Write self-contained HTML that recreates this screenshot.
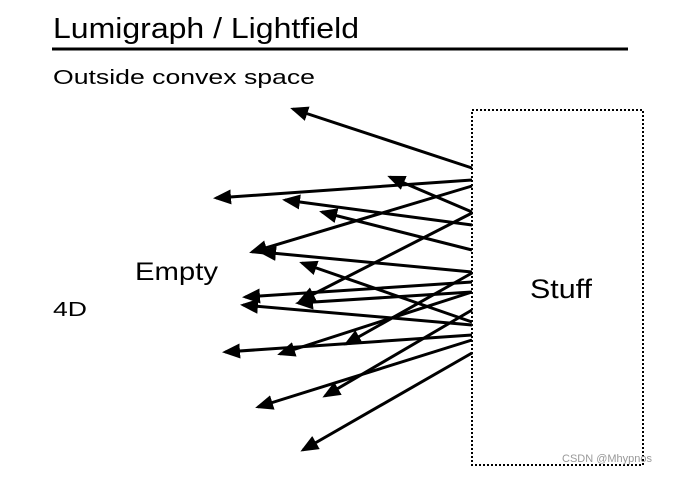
<!DOCTYPE html>
<html><head><style>
body{margin:0;width:675px;height:475px;background:#fff;overflow:hidden;font-family:"Liberation Sans",Arial,sans-serif;}
</style></head><body>
<svg width="675" height="475" xmlns="http://www.w3.org/2000/svg" font-family="Liberation Sans, Arial, sans-serif">
<defs><marker id="a" markerWidth="6" markerHeight="5" refX="5" refY="2.5" orient="auto" markerUnits="strokeWidth"><path d="M0,0 L6,2.5 L0,5 Z" fill="#000"/></marker></defs>
<text x="53" y="38" font-size="29" textLength="306" lengthAdjust="spacingAndGlyphs">Lumigraph / Lightfield</text>
<line x1="52" y1="49" x2="628" y2="49" stroke="#000" stroke-width="3"/>
<text x="53" y="84" font-size="20" textLength="262" lengthAdjust="spacingAndGlyphs">Outside convex space</text>
<text x="135" y="280" font-size="25" textLength="83" lengthAdjust="spacingAndGlyphs">Empty</text>
<text x="53" y="316" font-size="20" textLength="34" lengthAdjust="spacingAndGlyphs">4D</text>
<text x="530" y="298" font-size="27" textLength="62" lengthAdjust="spacingAndGlyphs">Stuff</text>
<rect x="472" y="110" width="171" height="355" fill="none" stroke="#000" stroke-width="2" stroke-dasharray="2,2"/>
<g stroke="#000" stroke-width="3" marker-end="url(#a)">
<line x1="472" y1="168" x2="293" y2="109"/>
<line x1="472" y1="180" x2="216" y2="198"/>
<line x1="472" y1="212" x2="390" y2="177"/>
<line x1="472" y1="225" x2="285" y2="200"/>
<line x1="472" y1="250" x2="322" y2="212"/>
<line x1="472" y1="186" x2="252" y2="252"/>
<line x1="472" y1="213" x2="300" y2="301"/>
<line x1="472" y1="272" x2="261" y2="252"/>
<line x1="472" y1="322" x2="302" y2="263"/>
<line x1="472" y1="282" x2="245" y2="297"/>
<line x1="472" y1="325" x2="243" y2="305"/>
<line x1="472" y1="292" x2="298" y2="303"/>
<line x1="472" y1="335" x2="225" y2="352"/>
<line x1="472" y1="292" x2="280" y2="354"/>
<line x1="472" y1="273" x2="346" y2="344"/>
<line x1="472" y1="340" x2="258" y2="407"/>
<line x1="472" y1="310" x2="325" y2="396"/>
<line x1="472" y1="353" x2="303" y2="450"/>
</g>
<text x="562" y="462" font-size="11" fill="#999">CSDN @Mhypnos</text>
</svg>
</body></html>
